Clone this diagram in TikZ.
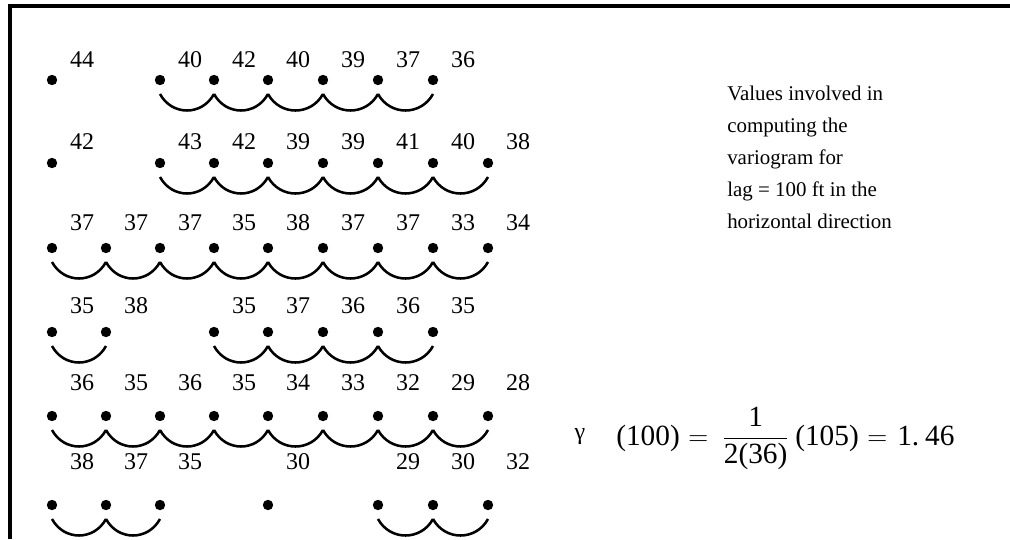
\documentclass[tikz,border=0pt]{standalone}
\usepackage{fontspec}
\usepackage{amsmath}
\setmainfont{Liberation Serif}
\begin{document}
\begin{tikzpicture}[x=0.75pt,y=-0.75pt,
  dot/.style={circle,fill=black,inner sep=0pt,minimum size=7.8pt},
  val/.style={font=\fontsize{18}{18}\selectfont,inner sep=0pt},
  pair/.style={line width=1.9pt},
  txt/.style={font=\fontsize{15.7}{18}\selectfont,anchor=base west,inner sep=0pt},
  eq/.style={font=\fontsize{22}{24}\selectfont,anchor=base west,inner sep=0pt},
  frame/.style={line width=3pt}]
\useasboundingbox (0,0) rectangle (1010,539);
\coordinate (tl) at (10,6);
\coordinate (tr) at (1010,6);
\coordinate (bl) at (10,539);
\draw[frame] (bl) -- (tl) -- (tr);
% dots and values
\foreach \r/\yy/\ly/\pts in {
  1/80/60/{1/44,3/40,4/42,5/40,6/39,7/37,8/36},
  2/163/142/{1/42,3/43,4/42,5/39,6/39,7/41,8/40,9/38},
  3/248/223/{1/37,2/37,3/37,4/35,5/38,6/37,7/37,8/33,9/34},
  4/332/306/{1/35,2/38,4/35,5/37,6/36,7/36,8/35},
  5/416/383/{1/36,2/35,3/36,4/35,5/34,6/33,7/32,8/29,9/28},
  6/505/462/{1/38,2/37,3/35,5/30,7/29,8/30,9/32}}{
  \foreach \c/\v in \pts {
    \pgfmathsetmacro{\xx}{{52,106,160,214,268,323,378,433,488}[\c-1]}
    \node[dot] (d\r-\c) at (\xx,\yy) {};
    \node[val] (v\r-\c) at (\xx+30,\ly) {\v};
  }
}
% arcs between neighbouring pairs
\foreach \r/\a/\b in {1/3/4,1/4/5,1/5/6,1/6/7,1/7/8,
  2/3/4,2/4/5,2/5/6,2/6/7,2/7/8,2/8/9,
  3/1/2,3/2/3,3/3/4,3/4/5,3/5/6,3/6/7,3/7/8,3/8/9,
  4/1/2,4/4/5,4/5/6,4/6/7,4/7/8,
  5/1/2,5/2/3,5/3/4,5/4/5,5/5/6,5/6/7,5/7/8,5/8/9,
  6/1/2,6/2/3,6/7/8,6/8/9}{
  \draw[pair] ([yshift=-10.5pt]d\r-\a.center) .. controls +(12,22) and +(-12,22) .. ([yshift=-10.5pt]d\r-\b.center);
}
% text
\node[txt] (t1) at (727,100) {Values involved in};
\node[txt] (t2) at (727,132) {computing the};
\node[txt] (t3) at (727,164) {variogram for};
\node[txt] (t4) at (727,196) {lag = 100 ft in the};
\node[txt] (t5) at (727,228) {horizontal direction};
% formula
\node[anchor=center,inner sep=0pt,font=\fontsize{18}{18}\selectfont] (fg) at (580,437) {γ};
\node[eq] (fl) at (616,445) {(100)};
\node[eq] (fe1) at (688,445) {$=$};
\node[eq] (ff) at (722,445) {$\dfrac{\text{1}}{\text{2(36)}}$};
\node[eq] (fr) at (795,445) {(105)};
\node[eq] (fe2) at (867,445) {$=$};
\node[eq] (fv) at (897,445) {1.\hspace{0.2em}46};
\end{tikzpicture}
\end{document}
